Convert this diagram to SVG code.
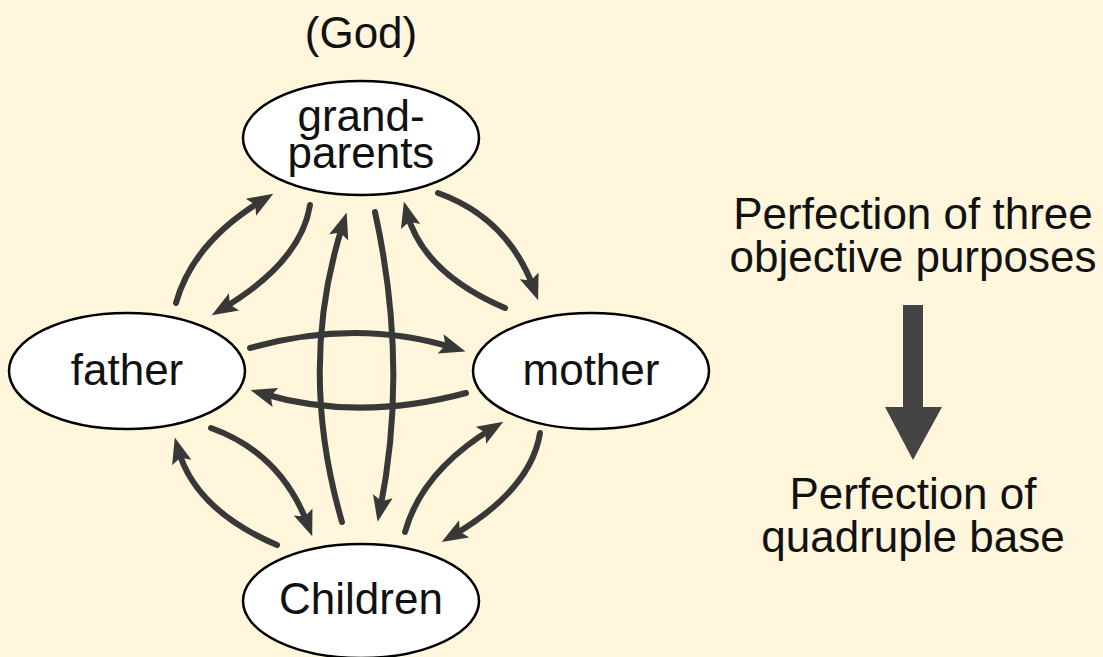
<svg xmlns="http://www.w3.org/2000/svg" width="1103" height="657" viewBox="0 0 1103 657">
<style>
.node{fill:#fff;stroke:#000;stroke-width:2.5}
.lbl{font-family:"Liberation Sans",Arial,sans-serif;font-size:44px;fill:#111;text-anchor:middle}
.con{fill:none;stroke:#383838;stroke-width:6;stroke-linecap:round}
</style>
<defs>
<marker id="ah" markerUnits="userSpaceOnUse" viewBox="0 -12 30 24" markerWidth="30" markerHeight="24" refX="14" refY="0" orient="auto" overflow="visible">
<path d="M0,-10 L26,0 L0,10 L5,0 z" fill="#383838"/>
</marker>
</defs>
<rect width="1103" height="657" fill="#FFF6DC"/>
<text class="lbl" x="361" y="48">(God)</text>
<g id="connectors">
<path class="con" marker-end="url(#ah)" d="M176,303 Q193,242 263,200"/>
<path class="con" marker-end="url(#ah)" d="M310,205 Q301,262 222,309"/>
<path class="con" marker-end="url(#ah)" d="M342,522 Q297,367 343,224"/>
<path class="con" marker-end="url(#ah)" d="M375,212 Q409,367 380,510"/>
<path class="con" marker-end="url(#ah)" d="M438,193 Q508,218 534,289"/>
<path class="con" marker-end="url(#ah)" d="M505,308 Q423,273 407,213"/>
<path class="con" marker-end="url(#ah)" d="M250,348 Q357,318 454,348"/>
<path class="con" marker-end="url(#ah)" d="M466,393 Q358,422 262,393.5"/>
<path class="con" marker-end="url(#ah)" d="M277,545 Q195,510 178,449"/>
<path class="con" marker-end="url(#ah)" d="M211,428 Q281,453 308,525"/>
<path class="con" marker-end="url(#ah)" d="M405,532 Q422,471 493,428"/>
<path class="con" marker-end="url(#ah)" d="M540,433 Q531,490 452,536"/>
</g>
<g id="grandparents">
<ellipse class="node" cx="361" cy="138" rx="118" ry="57"/>
<text class="lbl" x="361" y="131">grand-</text>
<text class="lbl" x="361" y="168">parents</text>
</g>
<g id="father">
<ellipse class="node" cx="127" cy="371" rx="118" ry="58"/>
<text class="lbl" x="127" y="385">father</text>
</g>
<g id="mother">
<ellipse class="node" cx="591" cy="371" rx="118" ry="58"/>
<text class="lbl" x="591" y="385">mother</text>
</g>
<g id="children">
<ellipse class="node" cx="361" cy="601" rx="118" ry="57"/>
<text class="lbl" x="361" y="614">Children</text>
</g>
<g id="note">
<text class="lbl" x="913" y="229">Perfection of three</text>
<text class="lbl" x="913" y="272">objective purposes</text>
<path d="M903,305 H923 V407 H942 L913,460 L885,407 H903 Z" fill="#444"/>
<text class="lbl" x="913" y="509">Perfection of</text>
<text class="lbl" x="913" y="552">quadruple base</text>
</g>
</svg>
